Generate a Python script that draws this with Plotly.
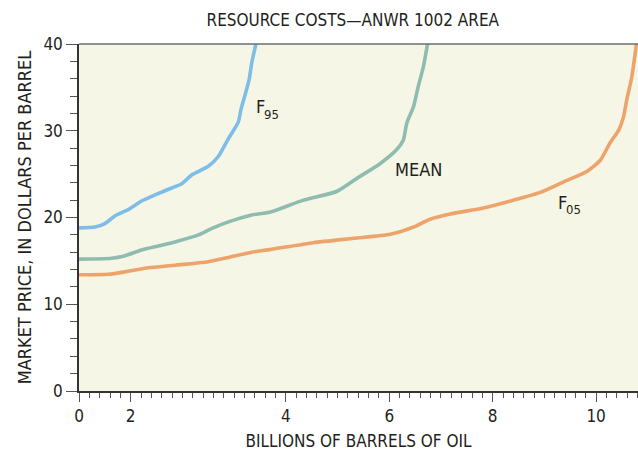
import plotly.graph_objects as go

# Resource cost curves, ANWR 1002 area
# x: billions of barrels of oil, y: market price in dollars per barrel
f95_x = [0.0, 0.31, 0.50, 0.70, 0.95, 1.21, 1.47, 1.79, 1.99, 2.18, 2.50, 2.69, 2.89, 3.08, 3.13, 3.21, 3.29, 3.34, 3.42]
f95_y = [18.8, 18.9, 19.3, 20.2, 20.9, 21.9, 22.6, 23.4, 23.9, 24.9, 25.9, 27.0, 29.1, 31.0, 32.4, 34.1, 35.9, 37.8, 40.0]

mean_x = [0.0, 0.63, 0.89, 1.21, 1.60, 1.92, 2.31, 2.57, 2.89, 3.34, 3.69, 4.34, 4.98, 5.37, 5.82, 6.14, 6.27, 6.34, 6.47, 6.56, 6.66, 6.74]
mean_y = [15.2, 15.3, 15.6, 16.25, 16.8, 17.3, 18.0, 18.75, 19.5, 20.3, 20.6, 22.0, 23.0, 24.5, 26.2, 27.8, 28.9, 30.9, 32.8, 35.1, 37.4, 40.0]

f05_x = [0.0, 0.57, 0.95, 1.34, 1.86, 2.50, 2.89, 3.34, 3.69, 4.53, 5.31, 6.02, 6.47, 6.79, 7.18, 7.82, 8.40, 8.92, 9.37, 9.82, 10.08, 10.27, 10.44, 10.53, 10.59, 10.69, 10.78]
f05_y = [13.4, 13.45, 13.8, 14.2, 14.5, 14.9, 15.4, 16.0, 16.3, 17.1, 17.6, 18.06, 18.9, 19.8, 20.4, 21.1, 22.0, 22.9, 24.1, 25.3, 26.6, 28.6, 30.1, 31.6, 33.5, 36.2, 40.0]

# labelled x ticks (the "2" label sits on the first major tick)
x_label_vals = [0, 1, 4, 6, 8, 10]
x_label_text = ["0", "2", "4", "6", "8", "10"]
# every major x tick mark
x_major_vals = [0, 1, 2, 3, 4, 5, 6, 7, 8, 9, 10]
y_tickvals = [0, 10, 20, 30, 40]

X_MAX = 10.81
FONT = "Liberation Sans Narrow, Arial Narrow, DejaVu Sans Condensed, sans-serif"
INK = "#231f20"
TICK = "#555555"

fig = go.Figure()
fig.add_trace(go.Scatter(x=f05_x, y=f05_y, mode="lines",
                         line=dict(color="#eea36a", width=3.6, shape="spline", smoothing=0.6)))
fig.add_trace(go.Scatter(x=mean_x, y=mean_y, mode="lines",
                         line=dict(color="#8fbcb0", width=3.6, shape="spline", smoothing=0.6)))
fig.add_trace(go.Scatter(x=f95_x, y=f95_y, mode="lines",
                         line=dict(color="#7dbde8", width=3.6, shape="spline", smoothing=0.6)))

# curve labels: (x, y, text, font size)
labels = [
    (3.39, 32.75, "F", 18),
    (3.54, 31.9, "95", 13),
    (6.07, 25.5, "MEAN", 18),
    (9.23, 21.75, "F", 18),
    (9.38, 20.95, "05", 13),
]
for lx, ly, txt, sz in labels:
    fig.add_annotation(x=lx, y=ly, text=txt, showarrow=False, xanchor="left",
                       yanchor="middle", font=dict(family=FONT, size=sz, color=INK))

# top border of the plotting area
fig.add_shape(type="line", xref="paper", yref="paper", x0=0, x1=1, y0=1, y1=1,
              line=dict(color="#6d6e70", width=1.5))

fig.add_annotation(xref="paper", yref="paper", x=-0.097, y=0.5, xanchor="center",
                   yanchor="middle", textangle=-90,
                   text="MARKET PRICE, IN DOLLARS PER BARREL", showarrow=False,
                   font=dict(family=FONT, size=18, color=INK))

fig.update_layout(
    width=638, height=451,
    margin=dict(l=79, r=0, t=44, b=60),
    paper_bgcolor="white",
    plot_bgcolor="#f6f6e6",
    showlegend=False,
    title=dict(text="RESOURCE COSTS\u2014ANWR 1002 AREA", x=0.553, y=0.956,
               xanchor="center", yanchor="middle",
               font=dict(family=FONT, size=17, color=INK)),
    font=dict(family=FONT, size=17, color=INK),
    # unlabelled axis carrying the long major tick marks
    xaxis2=dict(overlaying="x", anchor="y", side="bottom", range=[0, X_MAX],
                tickmode="array", tickvals=x_major_vals, showticklabels=False,
                ticks="outside", ticklen=9, tickwidth=1.2, tickcolor=TICK,
                showline=False, showgrid=False, zeroline=False),
)
fig.layout.xaxis.update(
    range=[0, X_MAX], tickmode="array", tickvals=x_label_vals, ticktext=x_label_text,
    ticks="outside", ticklen=9, tickwidth=1.2, tickcolor=TICK,
    minor=dict(dtick=0.2, tick0=0, ticks="outside", ticklen=5, tickwidth=1, tickcolor=TICK),
    showline=True, linecolor="#333", linewidth=1.5, showgrid=False, zeroline=False,
    title=dict(text="BILLIONS OF BARRELS OF OIL", standoff=12, font=dict(family=FONT, size=17, color=INK)),
    tickfont=dict(family=FONT, size=17, color=INK),
)
fig.update_yaxes(
    range=[0, 40], tickmode="array", tickvals=y_tickvals,
    ticks="outside", ticklen=11, tickwidth=1.2, tickcolor=TICK,
    minor=dict(dtick=2, tick0=0, ticks="outside", ticklen=7, tickwidth=1, tickcolor=TICK),
    showline=True, linecolor="#333", linewidth=1.5, showgrid=False, zeroline=False,
    tickfont=dict(family=FONT, size=17, color=INK),
)

fig.write_html("out.html")
